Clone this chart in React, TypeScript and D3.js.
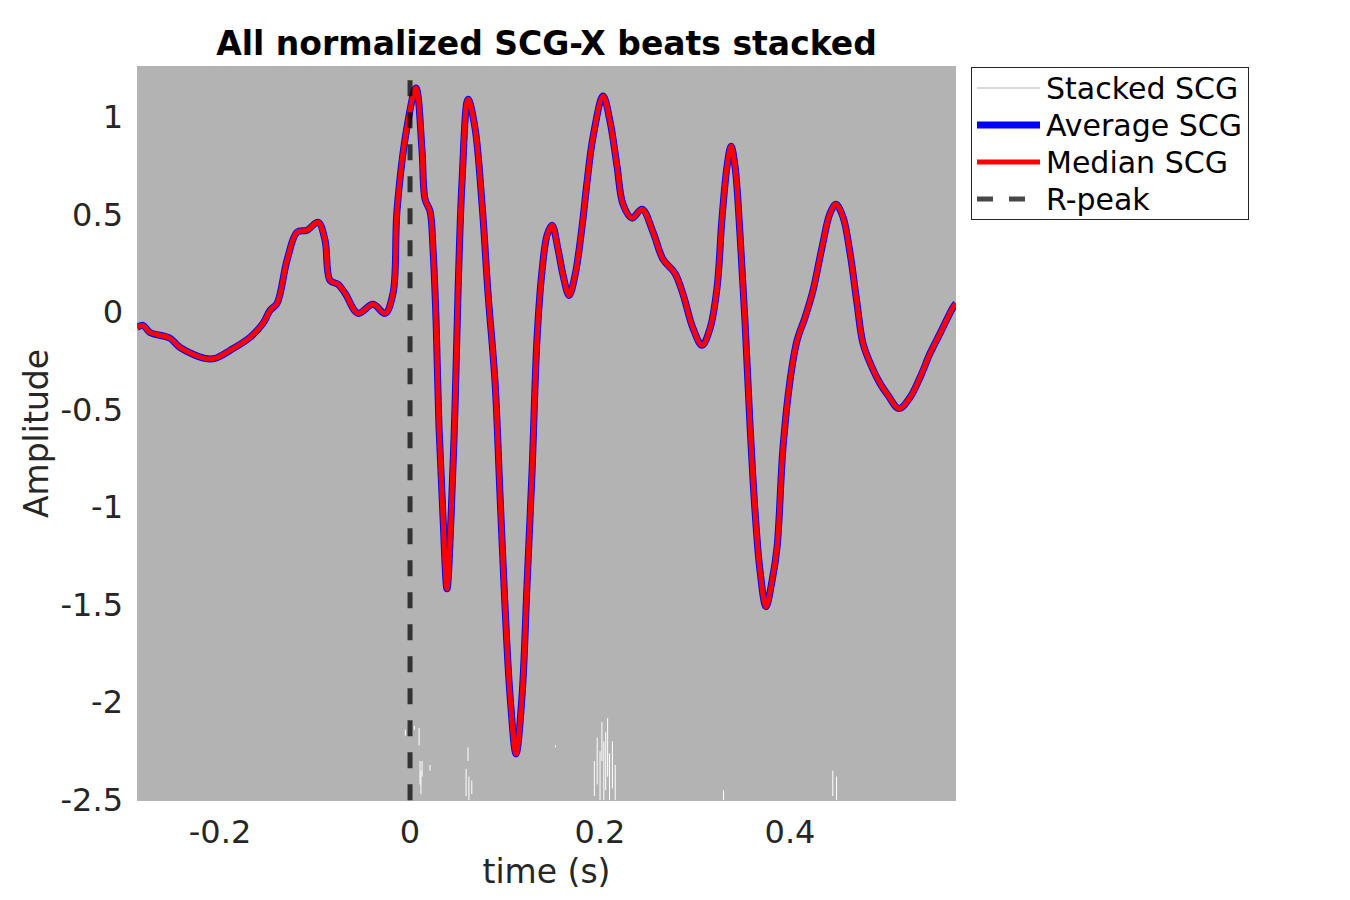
import React, { useEffect, useRef } from "react";
import * as d3 from "d3";

// (time in s, normalized amplitude)
const timeS = [
  -0.2874, -0.2811, -0.2737, -0.2526, -0.2421, -0.2158, -0.2053, -0.1895, -0.1684,
  -0.1547, -0.1474, -0.14, -0.1295, -0.1189, -0.1084, -0.0968, -0.0895, -0.0842,
  -0.0758, -0.0684, -0.0547, -0.0389, -0.0263, -0.0179, -0.0137, -0.0032, 0.0063,
  0.0126, 0.0158, 0.0211, 0.0242, 0.0274, 0.0305, 0.0347, 0.0389, 0.0432, 0.0474,
  0.0505, 0.0547, 0.0611, 0.0684, 0.0758, 0.0821, 0.0895, 0.0947, 0.1, 0.1053,
  0.1116, 0.1179, 0.1232, 0.1284, 0.1337, 0.1389, 0.1442, 0.1495, 0.1558, 0.1611,
  0.1674, 0.1737, 0.1811, 0.1863, 0.1926, 0.2032, 0.2105, 0.2179, 0.2242, 0.2337,
  0.2442, 0.2558, 0.2663, 0.2789, 0.2874, 0.2979, 0.3074, 0.3158, 0.3232, 0.3284,
  0.3337, 0.3379, 0.3421, 0.3474, 0.3526, 0.3579, 0.3632, 0.3684, 0.3747, 0.3811,
  0.3863, 0.3926, 0.4, 0.4074, 0.4158, 0.4242, 0.4337, 0.4421, 0.4484, 0.4558,
  0.4632, 0.4705, 0.4768, 0.4863, 0.4947, 0.5032, 0.5147, 0.5263, 0.5368, 0.5474,
  0.5579, 0.5716, 0.5747,
];

const averageScg = [
  -0.077, -0.067, -0.103, -0.133, -0.18, -0.236, -0.236, -0.195, -0.128,
  -0.056, 0.01, 0.046, 0.267, 0.411, 0.421, 0.462, 0.37, 0.164,
  0.144, 0.098, -0.005, 0.041, -0.005, 0.098, 0.524, 0.95, 1.15,
  0.832, 0.58, 0.518, 0.323, -0.041, -0.59, -1.047, -1.417, -1.047, -0.477,
  0.098, 0.667, 1.093, 0.945, 0.554, 0.098, -0.359, -0.934, -1.509, -1.966,
  -2.264, -1.966, -1.391, -0.821, -0.133, 0.21, 0.395, 0.447, 0.323, 0.19,
  0.087, 0.19, 0.441, 0.667, 0.898, 1.109, 0.98, 0.749, 0.554, 0.483,
  0.529, 0.411, 0.272, 0.2, 0.092, -0.082, -0.169, -0.082, 0.128, 0.483,
  0.749, 0.852, 0.749, 0.395, -0.046, -0.58, -1.022, -1.324, -1.509, -1.376,
  -1.206, -0.693, -0.349, -0.144, -0.026, 0.113, 0.334, 0.508, 0.554, 0.488,
  0.303, 0.046, -0.159, -0.282, -0.364, -0.426, -0.493, -0.436, -0.334, -0.21,
  -0.108, 0.026, 0.046,
];

// the median trace sits exactly on the average in the reference
const medianScg = averageScg.slice();

// white gaps left between the stacked beats near the bottom
const gapTime = [
  -0.005, 0.0045, 0.0095, 0.0105, 0.0115, 0.0127, 0.021, 0.059, 0.061, 0.062, 0.065,
  0.153, 0.194, 0.197, 0.2, 0.202, 0.204, 0.206, 0.208, 0.21, 0.213, 0.216, 0.33,
  0.445, 0.449,
];
const gapTop = [
  -2.14, -2.12, -2.13, -2.3, -2.35, -2.3, -2.32, -2.34, -2.23, -2.38, -2.4,
  -2.22, -2.3, -2.18, -2.25, -2.1, -2.2, -2.15, -2.08, -2.26, -2.2, -2.32, -2.45,
  -2.35, -2.38,
];
const gapBottom = [
  -2.17, -2.14, -2.22, -2.42, -2.47, -2.38, -2.35, -2.48, -2.3, -2.5, -2.47,
  -2.23, -2.48, -2.42, -2.5, -2.3, -2.5, -2.45, -2.38, -2.5, -2.44, -2.5, -2.5,
  -2.48, -2.5,
];

const xTicks = [-0.2, 0, 0.2, 0.4];
const yTicks = [-2.5, -2, -1.5, -1, -0.5, 0, 0.5, 1];
const legendLabels = ["Stacked SCG", "Average SCG", "Median SCG", "R-peak"];

const W = 1350;
const H = 900;
const plot = { left: 137, right: 956, top: 66, bottom: 801 };
const font = "DejaVu Sans, sans-serif";
const txt = "#262626";

export default function App() {
  const ref = useRef<SVGSVGElement>(null);

  useEffect(() => {
    const svg = d3.select(ref.current);
    svg.selectAll("*").remove();

    const x = d3.scaleLinear().domain([-0.2874, 0.5747]).range([plot.left, plot.right]);
    const y = d3.scaleLinear().domain([-2.505, 1.263]).range([plot.bottom, plot.top]);

    svg.append("rect").attr("width", W).attr("height", H).attr("fill", "#fff");

    svg.append("defs").append("clipPath").attr("id", "plotclip")
      .append("rect")
      .attr("x", plot.left).attr("y", plot.top)
      .attr("width", plot.right - plot.left).attr("height", plot.bottom - plot.top);

    // stacked beats fill the whole axes
    svg.append("rect")
      .attr("x", plot.left).attr("y", plot.top)
      .attr("width", plot.right - plot.left).attr("height", plot.bottom - plot.top)
      .attr("fill", "#b3b3b3");

    const g = svg.append("g").attr("clip-path", "url(#plotclip)");

    g.selectAll("line.gap")
      .data(gapTime)
      .join("line")
      .attr("class", "gap")
      .attr("x1", (d) => x(d)).attr("x2", (d) => x(d))
      .attr("y1", (_, i) => y(gapTop[i])).attr("y2", (_, i) => y(gapBottom[i]))
      .attr("stroke", "#fff").attr("stroke-width", 1);

    const pts = (vals: number[]) => timeS.map((t, i) => [t, vals[i]] as [number, number]);
    const line = d3.line<[number, number]>()
      .x((d) => x(d[0])).y((d) => y(d[1]))
      .curve(d3.curveCatmullRom.alpha(0.5));

    g.append("path").attr("d", line(pts(averageScg)))
      .attr("fill", "none").attr("stroke", "#0000ff").attr("stroke-width", 7)
      .attr("stroke-linejoin", "round");
    g.append("path").attr("d", line(pts(medianScg)))
      .attr("fill", "none").attr("stroke", "#ff0000").attr("stroke-width", 5)
      .attr("stroke-linejoin", "round");

    // R-peak marker
    g.append("line")
      .attr("x1", x(0)).attr("x2", x(0))
      .attr("y1", y(1.19)).attr("y2", plot.bottom)
      .attr("stroke", "#000").attr("stroke-opacity", 0.72)
      .attr("stroke-width", 5).attr("stroke-dasharray", "16,16");

    // ticks
    svg.append("g").selectAll("text")
      .data(xTicks).join("text")
      .attr("x", (d) => x(d)).attr("y", plot.bottom + 42)
      .attr("text-anchor", "middle")
      .attr("font-family", font).attr("font-size", 32).attr("fill", txt)
      .text((d) => String(d));

    svg.append("g").selectAll("text")
      .data(yTicks).join("text")
      .attr("x", plot.left - 14).attr("y", (d) => y(d) + 11)
      .attr("text-anchor", "end")
      .attr("font-family", font).attr("font-size", 32).attr("fill", txt)
      .text((d) => String(d));

    svg.append("text")
      .attr("x", (plot.left + plot.right) / 2).attr("y", 883)
      .attr("text-anchor", "middle")
      .attr("font-family", font).attr("font-size", 33).attr("fill", txt)
      .text("time (s)");

    svg.append("text")
      .attr("transform", `translate(48,${(plot.top + plot.bottom) / 2}) rotate(-90)`)
      .attr("text-anchor", "middle")
      .attr("font-family", font).attr("font-size", 33).attr("fill", txt)
      .text("Amplitude");

    svg.append("text")
      .attr("x", (plot.left + plot.right) / 2).attr("y", 55)
      .attr("text-anchor", "middle")
      .attr("font-family", font).attr("font-size", 33).attr("font-weight", "bold")
      .attr("fill", "#000")
      .text("All normalized SCG-X beats stacked");

    // legend
    const lg = svg.append("g").attr("transform", "translate(971,67)");
    lg.append("rect").attr("x", 0.5).attr("y", 0.5).attr("width", 277).attr("height", 152)
      .attr("fill", "#fff").attr("stroke", "#262626").attr("stroke-width", 1);
    const styles = [
      { stroke: "#b3b3b3", width: 1, dash: null },
      { stroke: "#0000ff", width: 7, dash: null },
      { stroke: "#ff0000", width: 5, dash: null },
      { stroke: "rgba(0,0,0,0.72)", width: 5, dash: "16,16" },
    ];
    legendLabels.forEach((label, i) => {
      const cy = 21 + i * 37;
      const s = styles[i];
      const l = lg.append("line")
        .attr("x1", 6).attr("x2", 69).attr("y1", cy).attr("y2", cy)
        .attr("stroke", s.stroke).attr("stroke-width", s.width);
      if (s.dash) l.attr("stroke-dasharray", s.dash);
      lg.append("text").attr("x", 75).attr("y", cy + 11)
        .attr("font-family", font).attr("font-size", 30).attr("fill", "#000")
        .text(label);
    });
  }, []);

  return (
    <div style={{ position: "absolute", left: 0, top: 0 }}>
      <svg ref={ref} width={W} height={H} />
    </div>
  );
}
